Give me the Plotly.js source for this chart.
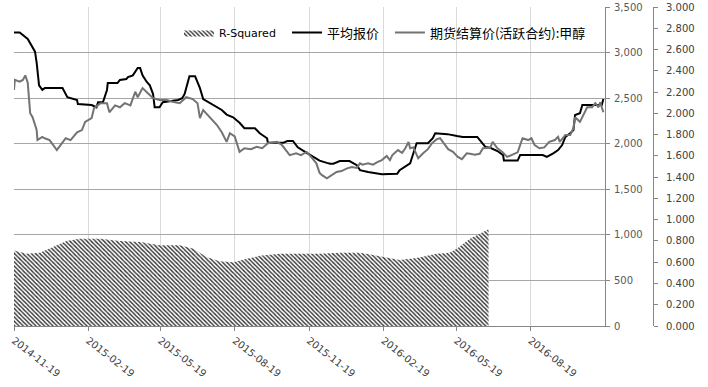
<!DOCTYPE html>
<html><head><meta charset="utf-8">
<script src="https://cdn.plot.ly/plotly-3.0.1.min.js"></script>
<style>html,body{margin:0;padding:0;background:#fff;}#c{width:708px;height:387px;}</style>
</head><body><div id="c"></div>
<script>
const seriesNames = ['R-Squared', '平均报价', '期货结算价(活跃合约):甲醇'];
const tickDates = ['2014-11-19','2015-02-19','2015-05-19','2015-08-19','2015-11-19','2016-02-19','2016-05-19','2016-08-19'];

const r2Dates = ['2014-11-19','2014-12-05','2014-12-21','2015-01-06','2015-01-23','2015-02-08','2015-03-06','2015-03-30','2015-04-24','2015-05-18','2015-06-12','2015-06-28','2015-07-15','2015-07-31','2015-08-17','2015-09-02','2015-09-19','2015-10-14','2015-11-07','2015-12-02','2015-12-27','2016-01-21','2016-02-19','2016-03-10','2016-03-31','2016-04-25','2016-05-11','2016-05-20','2016-06-05','2016-06-21','2016-06-28'];
const r2Values = [0.71,0.68,0.69,0.74,0.80,0.82,0.82,0.80,0.79,0.76,0.76,0.73,0.65,0.61,0.60,0.63,0.66,0.68,0.68,0.68,0.69,0.69,0.65,0.62,0.64,0.68,0.69,0.73,0.82,0.88,0.91];

const avgDates = ['2014-11-19','2014-11-26','2014-12-06','2014-12-11','2014-12-15','2014-12-17','2014-12-19','2014-12-20','2014-12-24','2014-12-27','2015-01-18','2015-01-21','2015-01-24','2015-02-05','2015-02-06','2015-02-23','2015-03-01','2015-03-03','2015-03-09','2015-03-14','2015-03-15','2015-03-27','2015-03-30','2015-04-07','2015-04-09','2015-04-15','2015-04-21','2015-04-24','2015-04-27','2015-05-02','2015-05-06','2015-05-10','2015-05-12','2015-05-18','2015-05-22','2015-06-10','2015-06-15','2015-06-18','2015-06-24','2015-07-01','2015-07-07','2015-07-11','2015-07-23','2015-08-03','2015-08-09','2015-08-17','2015-08-25','2015-08-31','2015-09-13','2015-09-19','2015-09-28','2015-09-29','2015-10-18','2015-10-23','2015-10-30','2015-11-05','2015-11-16','2015-11-26','2015-12-02','2015-12-11','2015-12-15','2015-12-19','2015-12-27','2016-01-08','2016-01-17','2016-01-21','2016-01-31','2016-02-17','2016-03-07','2016-03-10','2016-03-23','2016-03-25','2016-03-29','2016-03-31','2016-04-14','2016-04-20','2016-04-23','2016-05-08','2016-05-20','2016-05-27','2016-06-14','2016-06-20','2016-06-24','2016-06-30','2016-07-09','2016-07-16','2016-07-17','2016-08-03','2016-08-06','2016-09-03','2016-09-08','2016-09-16','2016-09-22','2016-09-27','2016-10-01','2016-10-07','2016-10-11','2016-10-13','2016-10-19','2016-10-22','2016-11-15','2016-11-17'];
const avgValues = [3220,3220,3150,3080,3010,2890,2750,2640,2590,2610,2610,2555,2510,2480,2435,2425,2400,2455,2455,2590,2665,2665,2700,2710,2730,2750,2830,2830,2750,2680,2640,2545,2400,2400,2455,2480,2500,2545,2740,2740,2610,2490,2430,2370,2320,2290,2230,2170,2170,2115,2060,2010,2010,2030,2030,1960,1900,1850,1815,1790,1780,1780,1810,1810,1765,1710,1690,1665,1670,1710,1785,1840,1950,2005,2005,2060,2115,2105,2085,2075,2075,2005,1965,1955,1920,1875,1815,1815,1875,1875,1855,1895,1930,1985,2075,2115,2150,2315,2335,2425,2425,2490];

const futDates = ['2014-11-19','2014-11-20','2014-11-26','2014-11-30','2014-12-03','2014-12-06','2014-12-09','2014-12-12','2014-12-17','2014-12-18','2014-12-24','2014-12-27','2015-01-02','2015-01-05','2015-01-11','2015-01-16','2015-01-22','2015-01-28','2015-02-05','2015-02-11','2015-02-15','2015-02-23','2015-02-26','2015-03-06','2015-03-14','2015-03-17','2015-03-24','2015-03-30','2015-04-05','2015-04-12','2015-04-18','2015-04-21','2015-04-27','2015-05-03','2015-05-10','2015-05-18','2015-05-27','2015-06-03','2015-06-12','2015-06-20','2015-06-28','2015-07-04','2015-07-07','2015-07-11','2015-07-17','2015-07-23','2015-07-28','2015-08-03','2015-08-09','2015-08-13','2015-08-19','2015-08-25','2015-08-31','2015-09-08','2015-09-15','2015-09-22','2015-09-29','2015-10-10','2015-10-16','2015-10-26','2015-11-03','2015-11-09','2015-11-16','2015-11-22','2015-11-28','2015-12-02','2015-12-05','2015-12-11','2015-12-17','2015-12-23','2015-12-29','2016-01-05','2016-01-11','2016-01-17','2016-01-21','2016-01-24','2016-01-31','2016-02-06','2016-02-12','2016-02-17','2016-02-23','2016-02-27','2016-03-01','2016-03-08','2016-03-13','2016-03-17','2016-03-21','2016-03-23','2016-03-27','2016-04-02','2016-04-08','2016-04-14','2016-04-19','2016-04-25','2016-04-29','2016-05-02','2016-05-09','2016-05-15','2016-05-21','2016-05-26','2016-06-01','2016-06-05','2016-06-11','2016-06-17','2016-06-21','2016-06-30','2016-07-03','2016-07-09','2016-07-15','2016-07-21','2016-07-27','2016-08-03','2016-08-09','2016-08-16','2016-08-20','2016-08-24','2016-08-30','2016-09-05','2016-09-11','2016-09-18','2016-09-22','2016-09-24','2016-10-01','2016-10-07','2016-10-11','2016-10-13','2016-10-19','2016-10-23','2016-10-28','2016-11-03','2016-11-07','2016-11-11','2016-11-13','2016-11-15','2016-11-17'];
const futValues = [2590,2700,2680,2700,2750,2670,2335,2290,2150,2040,2075,2060,2040,2005,1930,1990,2060,2040,2125,2150,2240,2280,2390,2445,2445,2345,2420,2400,2445,2420,2570,2510,2610,2560,2500,2480,2480,2460,2445,2510,2490,2445,2280,2370,2315,2260,2205,2125,2020,2115,2080,1910,1950,1940,1965,1950,2005,2020,1990,1875,1895,1875,1910,1850,1785,1680,1655,1620,1655,1690,1700,1730,1745,1735,1785,1770,1785,1770,1800,1820,1865,1820,1875,1930,1900,1950,2020,1950,1960,1840,1895,1940,2005,2050,2060,2020,1940,1910,1855,1830,1895,1890,1880,1890,1950,1955,2020,1950,1910,1855,1880,1905,2060,2040,2060,1985,1950,1960,2020,2040,2075,2020,2095,2095,2170,2290,2240,2315,2400,2400,2445,2400,2455,2400,2345];

const tickFont = {family: 'DejaVu Sans, Noto Sans CJK SC', size: 10, color: '#595959'};

const traces = [
  {x: r2Dates, y: r2Values, name: seriesNames[0], type: 'scatter', mode: 'lines', yaxis: 'y2',
   legend: 'legend', fill: 'tozeroy', line: {width: 0, color: '#333333'},
   fillpattern: {shape: '\\', fgcolor: '#2e2e2e', bgcolor: '#ffffff', size: 3, solidity: 0.45}},
  {x: avgDates, y: avgValues, name: seriesNames[1], type: 'scatter', mode: 'lines',
   legend: 'legend2', line: {color: '#000000', width: 2}},
  {x: futDates, y: futValues, name: seriesNames[2], type: 'scatter', mode: 'lines',
   legend: 'legend3', line: {color: '#737373', width: 2}}
];

function legendAt(xPos, font) {
  return {orientation: 'h', x: xPos, y: 0.92, xanchor: 'left', yanchor: 'middle',
    font: font, bgcolor: 'rgba(0,0,0,0)', itemwidth: 30};
}
const cjkFont = {family: 'Noto Sans CJK SC, DejaVu Sans', size: 13, color: '#000'};

const layout = {
  width: 708, height: 387,
  margin: {l: 14, r: 8, t: 7, b: 61},
  paper_bgcolor: '#ffffff', plot_bgcolor: '#ffffff',
  showlegend: true,
  legend: legendAt(0.2405, {family: 'DejaVu Sans', size: 11, color: '#000'}),
  legend2: legendAt(0.398, cjkFont),
  legend3: legendAt(0.548, cjkFont),
  xaxis: {type: 'date', domain: [0, 0.8615], range: ['2014-11-19', '2016-11-19'],
    tickvals: tickDates, ticktext: tickDates, tickangle: 38,
    tickfont: {family: 'DejaVu Sans', size: 10, color: '#404040'},
    showgrid: true, gridcolor: '#d9d9d9', gridwidth: 1,
    showline: true, linecolor: '#868686', linewidth: 1,
    ticks: 'outside', ticklen: 4, tickcolor: '#868686', zeroline: false, fixedrange: true},
  yaxis: {range: [0, 3500], dtick: 500, tickformat: ',d', side: 'right', anchor: 'x',
    tickfont: tickFont, showgrid: true, gridcolor: '#a6a6a6', gridwidth: 1,
    showline: true, linecolor: '#868686', linewidth: 1,
    ticks: 'outside', ticklen: 4, tickcolor: '#868686', zeroline: false, ticklabelstandoff: 2},
  yaxis2: {range: [0, 3], dtick: 0.2, tickformat: '.3f', side: 'right', overlaying: 'y',
    anchor: 'free', position: 0.9315,
    tickfont: {family: 'DejaVu Sans', size: 10, color: '#404040'}, showgrid: false,
    showline: true, linecolor: '#868686', linewidth: 1,
    ticks: 'outside', ticklen: 4, tickcolor: '#868686', zeroline: false, ticklabelstandoff: 6}
};

Plotly.newPlot('c', traces, layout, {displayModeBar: false, staticPlot: true});
</script>
</body></html>
